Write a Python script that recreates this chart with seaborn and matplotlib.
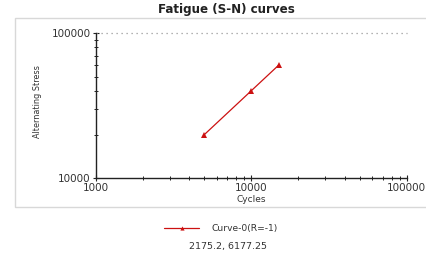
import matplotlib
matplotlib.use("Agg")
import matplotlib.pyplot as plt
import matplotlib.patches as mpatches
from matplotlib.ticker import LogLocator, NullFormatter, FixedLocator, FixedFormatter
from matplotlib import font_manager
import seaborn as sns
import pandas as pd

cycles = [5000, 10000, 15000]
stress = [20000, 40000, 60000]
series_name = "Curve-0(R=-1)"
xticks = [1000, 10000, 100000]
yticks = [10000, 100000]
coord_text = "2175.2, 6177.25"

sns.set_theme(style="white")
plt.rcParams['font.family'] = ['DejaVu Sans']

names = {f.name for f in font_manager.fontManager.ttflist}
narrow = "Liberation Sans Narrow" if "Liberation Sans Narrow" in names else "DejaVu Sans"

df = pd.DataFrame({"Cycles": cycles, "Stress": stress, "Series": series_name})

fig = plt.figure(figsize=(4.27, 2.60), dpi=100)
panel = mpatches.Rectangle((15/427, 1 - 207/260), 1.0, (207 - 18)/260,
                           transform=fig.transFigure, facecolor="white",
                           edgecolor="#d8d8d8", linewidth=1.0, zorder=-5)
fig.patches.append(panel)

ax = fig.add_axes([95.7/427, 1 - 178.3/260, (406.7 - 95.7)/427, (178.3 - 33)/260])
ax.set_zorder(2)
ax.patch.set_visible(False)
sns.lineplot(data=df, x="Cycles", y="Stress", ax=ax, color="#cc1111",
             marker="^", markersize=4, markeredgewidth=0, linewidth=0.9,
             legend=False)
ax.set_xscale("log")
ax.set_yscale("log")
ax.set_xlim(1000, 100000)
ax.set_ylim(10000, 100000)

ax.xaxis.set_major_locator(FixedLocator(xticks))
ax.xaxis.set_major_formatter(FixedFormatter([str(v) for v in xticks]))
ax.yaxis.set_major_locator(FixedLocator(yticks))
ax.yaxis.set_major_formatter(FixedFormatter([str(v) for v in yticks]))
ax.xaxis.set_minor_locator(LogLocator(base=10, subs=range(2, 10)))
ax.yaxis.set_minor_locator(LogLocator(base=10, subs=range(2, 10)))
ax.xaxis.set_minor_formatter(NullFormatter())
ax.yaxis.set_minor_formatter(NullFormatter())

for s in ["top", "right"]:
    ax.spines[s].set_visible(False)
for s in ["left", "bottom"]:
    ax.spines[s].set_visible(True)
    ax.spines[s].set_color("#222222")
    ax.spines[s].set_linewidth(1.0)

ax.tick_params(axis="both", which="major", direction="inout", length=5, width=0.8,
               color="#222222", labelsize=7.5, labelcolor="#333333", pad=1,
               bottom=True, left=True)
ax.tick_params(axis="both", which="minor", direction="inout", length=3, width=0.7,
               color="#222222", bottom=True, left=True)

ax.axhline(100000, color="#999999", linestyle=(0, (1, 3)), linewidth=0.9, clip_on=False)

ax.set_xlabel("Cycles", fontsize=6.5, color="#333333", labelpad=1)
ax.set_ylabel("")
fig.text(38/427, 1 - 102/260, "Alternating Stress", rotation=90, ha="center", va="center",
         fontsize=6.5, color="#333333", family=[narrow, "DejaVu Sans"],
         fontstretch="condensed")

fig.text(226/427, 1 - 10/260, "Fatigue (S-N) curves", ha="center", va="center",
         fontsize=8.6, fontweight="bold", color="#222222")

from matplotlib.lines import Line2D
handle = Line2D([], [], color="#cc1111", marker="^", markersize=3, markeredgewidth=0,
                linewidth=0.9)
fig.legend([handle], [series_name], loc="center", bbox_to_anchor=(221/427, 1 - 229/260),
           frameon=False, fontsize=6.6, handlelength=3.8, handletextpad=1.3,
           labelcolor="#333333")

fig.text(228/427, 1 - 247/260, coord_text, ha="center", va="center",
         fontsize=6.8, color="#333333")

fig.savefig("out.png", dpi=100)
